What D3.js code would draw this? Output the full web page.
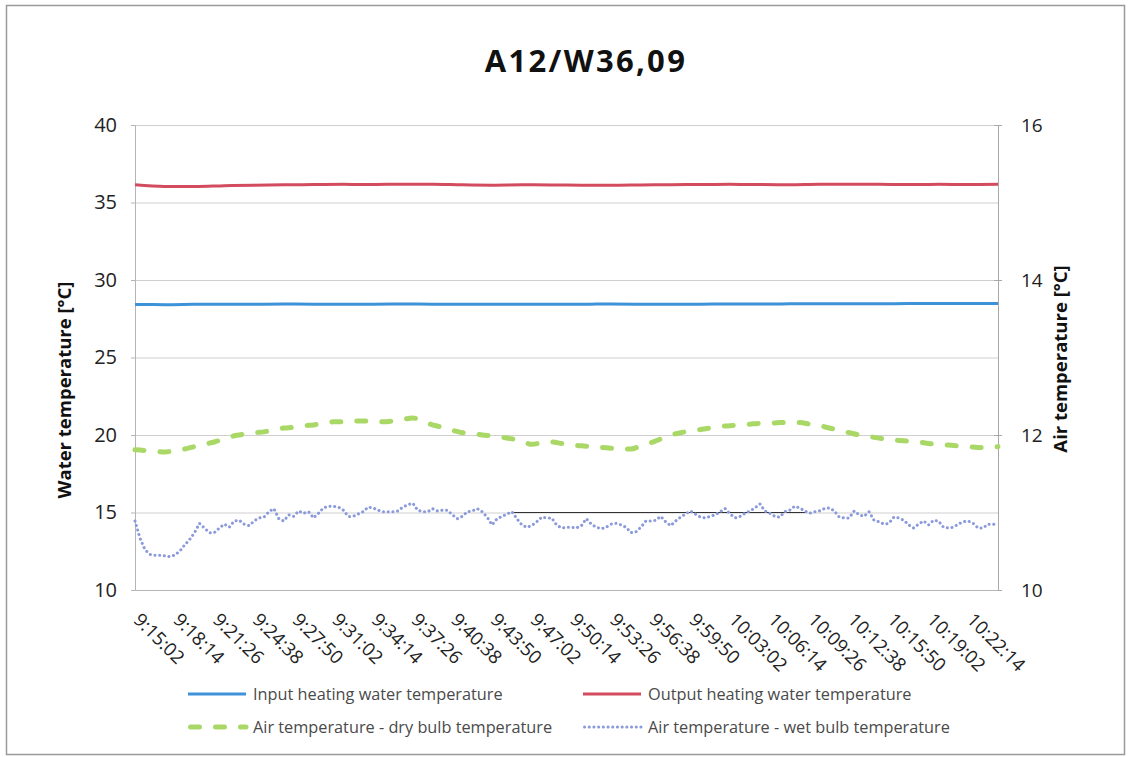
<!DOCTYPE html>
<html>
<head>
<meta charset="utf-8">
<script src="https://cdn.jsdelivr.net/npm/d3@7"></script>
<style>
  html, body { margin: 0; padding: 0; background: #fff; }
  svg { display: block; font-family: "Open Sans", sans-serif; }
</style>
</head>
<body>
<svg id="chart" width="1128" height="757"></svg>
<script>
// ---- data ----
const chartTitle = "A12/W36,09";
const timeRange = ["9:15:02", "10:24:38"];
const tickLabels = ["9:15:02", "9:18:14", "9:21:26", "9:24:38", "9:27:50", "9:31:02", "9:34:14",
  "9:37:26", "9:40:38", "9:43:50", "9:47:02", "9:50:14", "9:53:26", "9:56:38", "9:59:50",
  "10:03:02", "10:06:14", "10:09:26", "10:12:38", "10:15:50", "10:19:02", "10:22:14"];
const leftTicks = [10, 15, 20, 25, 30, 35, 40];
const rightTicks = [10, 12, 14, 16];
const leftDomain = [10, 40];
const rightDomain = [10, 16];

// sampling step of each logged series, seconds
const waterStep = 144;
const dryStep = 48;
const wetStep = 24;

// water temperatures [°C], left axis
const outputWater = [36.15, 36.04, 36.03, 36.08, 36.12, 36.14, 36.16, 36.17, 36.16, 36.18,
  36.18, 36.14, 36.12, 36.14, 36.13, 36.12, 36.11, 36.13, 36.15, 36.16,
  36.17, 36.16, 36.15, 36.18, 36.18, 36.17, 36.16, 36.17, 36.16, 36.17];
const inputWater = [28.42, 28.41, 28.43, 28.44, 28.44, 28.45, 28.44, 28.43, 28.44, 28.45,
  28.44, 28.44, 28.43, 28.43, 28.44, 28.44, 28.45, 28.44, 28.43, 28.44,
  28.45, 28.45, 28.46, 28.46, 28.47, 28.47, 28.48, 28.48, 28.48, 28.49];

// air temperatures [°C], right axis
const dryBulb = [11.81, 11.80, 11.79, 11.78, 11.80, 11.82, 11.85, 11.88, 11.91, 11.95,
  11.99, 12.01, 12.03, 12.04, 12.07, 12.09, 12.10, 12.12, 12.13, 12.15,
  12.17, 12.17, 12.18, 12.18, 12.18, 12.17, 12.18, 12.20, 12.22, 12.18,
  12.13, 12.10, 12.06, 12.03, 12.02, 12.00, 11.99, 11.97, 11.95, 11.92,
  11.88, 11.90, 11.91, 11.89, 11.87, 11.86, 11.85, 11.84, 11.83, 11.82,
  11.82, 11.86, 11.90, 11.95, 12.00, 12.03, 12.05, 12.07, 12.09, 12.11,
  12.12, 12.13, 12.14, 12.15, 12.15, 12.16, 12.16, 12.16, 12.14, 12.12,
  12.09, 12.06, 12.03, 12.00, 11.98, 11.96, 11.94, 11.93, 11.92, 11.91,
  11.89, 11.88, 11.87, 11.86, 11.85, 11.84, 11.84, 11.85];
const wetBulb = [10.89, 10.67, 10.52, 10.46, 10.45, 10.45, 10.44, 10.43, 10.45, 10.50,
  10.58, 10.65, 10.74, 10.86, 10.80, 10.74, 10.74, 10.80, 10.85, 10.81,
  10.89, 10.90, 10.85, 10.83, 10.89, 10.93, 10.94, 11.01, 11.05, 10.92,
  10.89, 10.97, 10.95, 11.02, 10.99, 11.01, 10.93, 10.99, 11.06, 11.08,
  11.08, 11.07, 11.03, 10.95, 10.95, 10.98, 11.01, 11.07, 11.06, 11.03,
  11.01, 11.01, 11.01, 11.02, 11.07, 11.10, 11.12, 11.03, 11.01, 11.01,
  11.05, 11.02, 11.03, 11.03, 10.97, 10.92, 10.95, 11.01, 11.02, 11.05,
  11.01, 10.94, 10.84, 10.92, 10.95, 10.98, 11.01, 10.92, 10.84, 10.81,
  10.83, 10.88, 10.94, 10.93, 10.93, 10.84, 10.80, 10.81, 10.81, 10.80,
  10.83, 10.92, 10.85, 10.81, 10.79, 10.81, 10.85, 10.86, 10.84, 10.81,
  10.74, 10.75, 10.81, 10.89, 10.89, 10.90, 10.95, 10.88, 10.83, 10.89,
  10.94, 10.98, 11.02, 10.98, 10.94, 10.93, 10.95, 10.97, 11.01, 11.05,
  10.98, 10.93, 10.95, 10.99, 11.02, 11.06, 11.11, 11.02, 10.99, 10.95,
  10.94, 11.01, 11.03, 11.08, 11.06, 11.02, 10.99, 11.01, 11.02, 11.05,
  11.06, 11.02, 10.94, 10.93, 10.93, 11.02, 10.97, 10.95, 11.01, 10.90,
  10.88, 10.85, 10.86, 10.94, 10.93, 10.90, 10.84, 10.80, 10.85, 10.89,
  10.84, 10.90, 10.89, 10.81, 10.80, 10.81, 10.85, 10.88, 10.89, 10.86,
  10.80, 10.80, 10.85, 10.85, 10.84];

// thin dark segment lying on the 15 °C gridline
const gridMarkSpan = ["9:45:31", "10:09:04"];
const gridMarkValue = 15;

const legendLabels = [
  "Input heating water temperature",
  "Output heating water temperature",
  "Air temperature - dry bulb temperature",
  "Air temperature - wet bulb temperature"
];

// ---- helpers ----
const toSec = s => { const p = s.split(":").map(Number); return p[0] * 3600 + p[1] * 60 + p[2]; };
const t0 = toSec(timeRange[0]);
const toPoints = (vals, step) => vals.map((v, i) => ({ t: t0 + i * step, v }));

// ---- layout ----
const W = 1128, H = 757;
const plot = { left: 135, right: 998, top: 125, bottom: 590 };

const svg = d3.select("#chart");

const x = d3.scaleLinear().domain(timeRange.map(toSec)).range([plot.left, plot.right]);
const yL = d3.scaleLinear().domain(leftDomain).range([plot.bottom, plot.top]);
const yR = d3.scaleLinear().domain(rightDomain).range([plot.bottom, plot.top]);

// outer frame
svg.append("rect")
  .attr("x", 6.5).attr("y", 5.5).attr("width", W - 10).attr("height", H - 8)
  .attr("fill", "none").attr("stroke", "#9a9a9a").attr("stroke-width", 1.5);

// title
svg.append("text")
  .attr("x", 586).attr("y", 72)
  .attr("text-anchor", "middle")
  .attr("font-size", 31).attr("font-weight", 700)
  .attr("letter-spacing", 2.3)
  .attr("fill", "#111")
  .text(chartTitle);

// horizontal gridlines
svg.append("g").selectAll("line")
  .data(leftTicks.filter(d => d !== leftDomain[0]))
  .join("line")
  .attr("x1", plot.left).attr("x2", plot.right)
  .attr("y1", d => yL(d) + 0.5).attr("y2", d => yL(d) + 0.5)
  .attr("stroke", "#cfcfcf").attr("stroke-width", 1);

// left axis
const axL = svg.append("g").attr("transform", `translate(${plot.left},0)`)
  .call(d3.axisLeft(yL).tickValues(leftTicks).tickSize(4).tickPadding(14));
axL.select(".domain").attr("stroke", "#b5b5b5");
axL.selectAll(".tick line").attr("stroke", "#b5b5b5");
axL.selectAll(".tick text").attr("font-size", 20).attr("fill", "#222")
  .attr("font-family", "'Open Sans', sans-serif");

// right axis
const axR = svg.append("g").attr("transform", `translate(${plot.right},0)`)
  .call(d3.axisRight(yR).tickValues(rightTicks).tickFormat(d3.format("d")).tickSize(4).tickPadding(19));
axR.select(".domain").attr("stroke", "#a8a8a8");
axR.selectAll(".tick line").attr("stroke", "#a8a8a8").attr("x1", -4);
axR.selectAll(".tick text").attr("font-size", 19).attr("fill", "#222")
  .attr("font-family", "'Open Sans', sans-serif");

// category axis
const axX = svg.append("g").attr("transform", `translate(0,${plot.bottom})`)
  .call(d3.axisBottom(x).tickValues(tickLabels.map(toSec)).tickSize(0).tickFormat((d, i) => tickLabels[i]));
axX.select(".domain").attr("stroke", "#b5b5b5");
axX.selectAll(".tick text")
  .attr("font-size", 18.5).attr("fill", "#222")
  .attr("font-family", "'Open Sans', sans-serif")
  .attr("text-anchor", "start")
  .attr("dy", null).attr("y", null)
  .attr("transform", "translate(-3,31) rotate(45)");

// axis titles
svg.append("text")
  .attr("transform", `translate(${71},${390}) rotate(-90)`)
  .attr("text-anchor", "middle").attr("font-size", 18.5).attr("font-weight", 700).attr("fill", "#111")
  .text("Water temperature [°C]");
svg.append("text")
  .attr("transform", `translate(${1067},${359}) rotate(-90)`)
  .attr("text-anchor", "middle").attr("font-size", 18.5).attr("font-weight", 700).attr("fill", "#111")
  .text("Air temperature [°C]");

// series styles
const styles = {
  input: { color: "#3d92d8", width: 3, dash: null, cap: "butt" },
  output: { color: "#d34b5e", width: 3, dash: null, cap: "butt" },
  dry: { color: "#a9d866", width: 5, dash: "9,16", cap: "round" },
  wet: { color: "#8a9ada", width: 3, dash: "0.1,4.6", cap: "round" }
};

const lineL = d3.line().x(d => x(d.t)).y(d => yL(d.v)).curve(d3.curveMonotoneX);
const lineR = d3.line().x(d => x(d.t)).y(d => yR(d.v)).curve(d3.curveMonotoneX);
const lineRw = d3.line().x(d => x(d.t)).y(d => yR(d.v));

const drawSeries = (pts, gen, st) => svg.append("path")
  .datum(pts).attr("d", gen)
  .attr("fill", "none").attr("stroke", st.color).attr("stroke-width", st.width)
  .attr("stroke-dasharray", st.dash).attr("stroke-linecap", st.cap)
  .attr("stroke-linejoin", "round");

drawSeries(toPoints(outputWater, waterStep), lineL, styles.output);
drawSeries(toPoints(inputWater, waterStep), lineL, styles.input);
drawSeries(toPoints(dryBulb, dryStep), lineR, styles.dry);

// dark segment on the 15 °C gridline
svg.append("line")
  .attr("x1", x(toSec(gridMarkSpan[0]))).attr("x2", x(toSec(gridMarkSpan[1])))
  .attr("y1", yL(gridMarkValue)).attr("y2", yL(gridMarkValue))
  .attr("stroke", "#333").attr("stroke-width", 1);

drawSeries(toPoints(wetBulb, wetStep), lineRw, styles.wet);

// legend
const legend = [
  { label: legendLabels[0], st: styles.input, x: 188, y: 694 },
  { label: legendLabels[1], st: styles.output, x: 583, y: 694 },
  { label: legendLabels[2], st: styles.dry, x: 188, y: 727 },
  { label: legendLabels[3], st: styles.wet, x: 583, y: 727 }
];
const lg = svg.append("g").selectAll("g").data(legend).join("g")
  .attr("transform", d => `translate(${d.x},${d.y})`);
lg.append("line")
  .attr("x1", d => d.st.cap === "round" ? d.st.width / 2 : 0).attr("x2", 58)
  .attr("y1", 0).attr("y2", 0)
  .attr("stroke", d => d.st.color).attr("stroke-width", d => d.st.width)
  .attr("stroke-dasharray", d => d.st.dash).attr("stroke-linecap", d => d.st.cap);
lg.append("text")
  .attr("x", 65).attr("y", 0).attr("dy", "0.35em")
  .attr("font-size", 16.3).attr("fill", "#4a4a4a")
  .text(d => d.label);
</script>
</body>
</html>
